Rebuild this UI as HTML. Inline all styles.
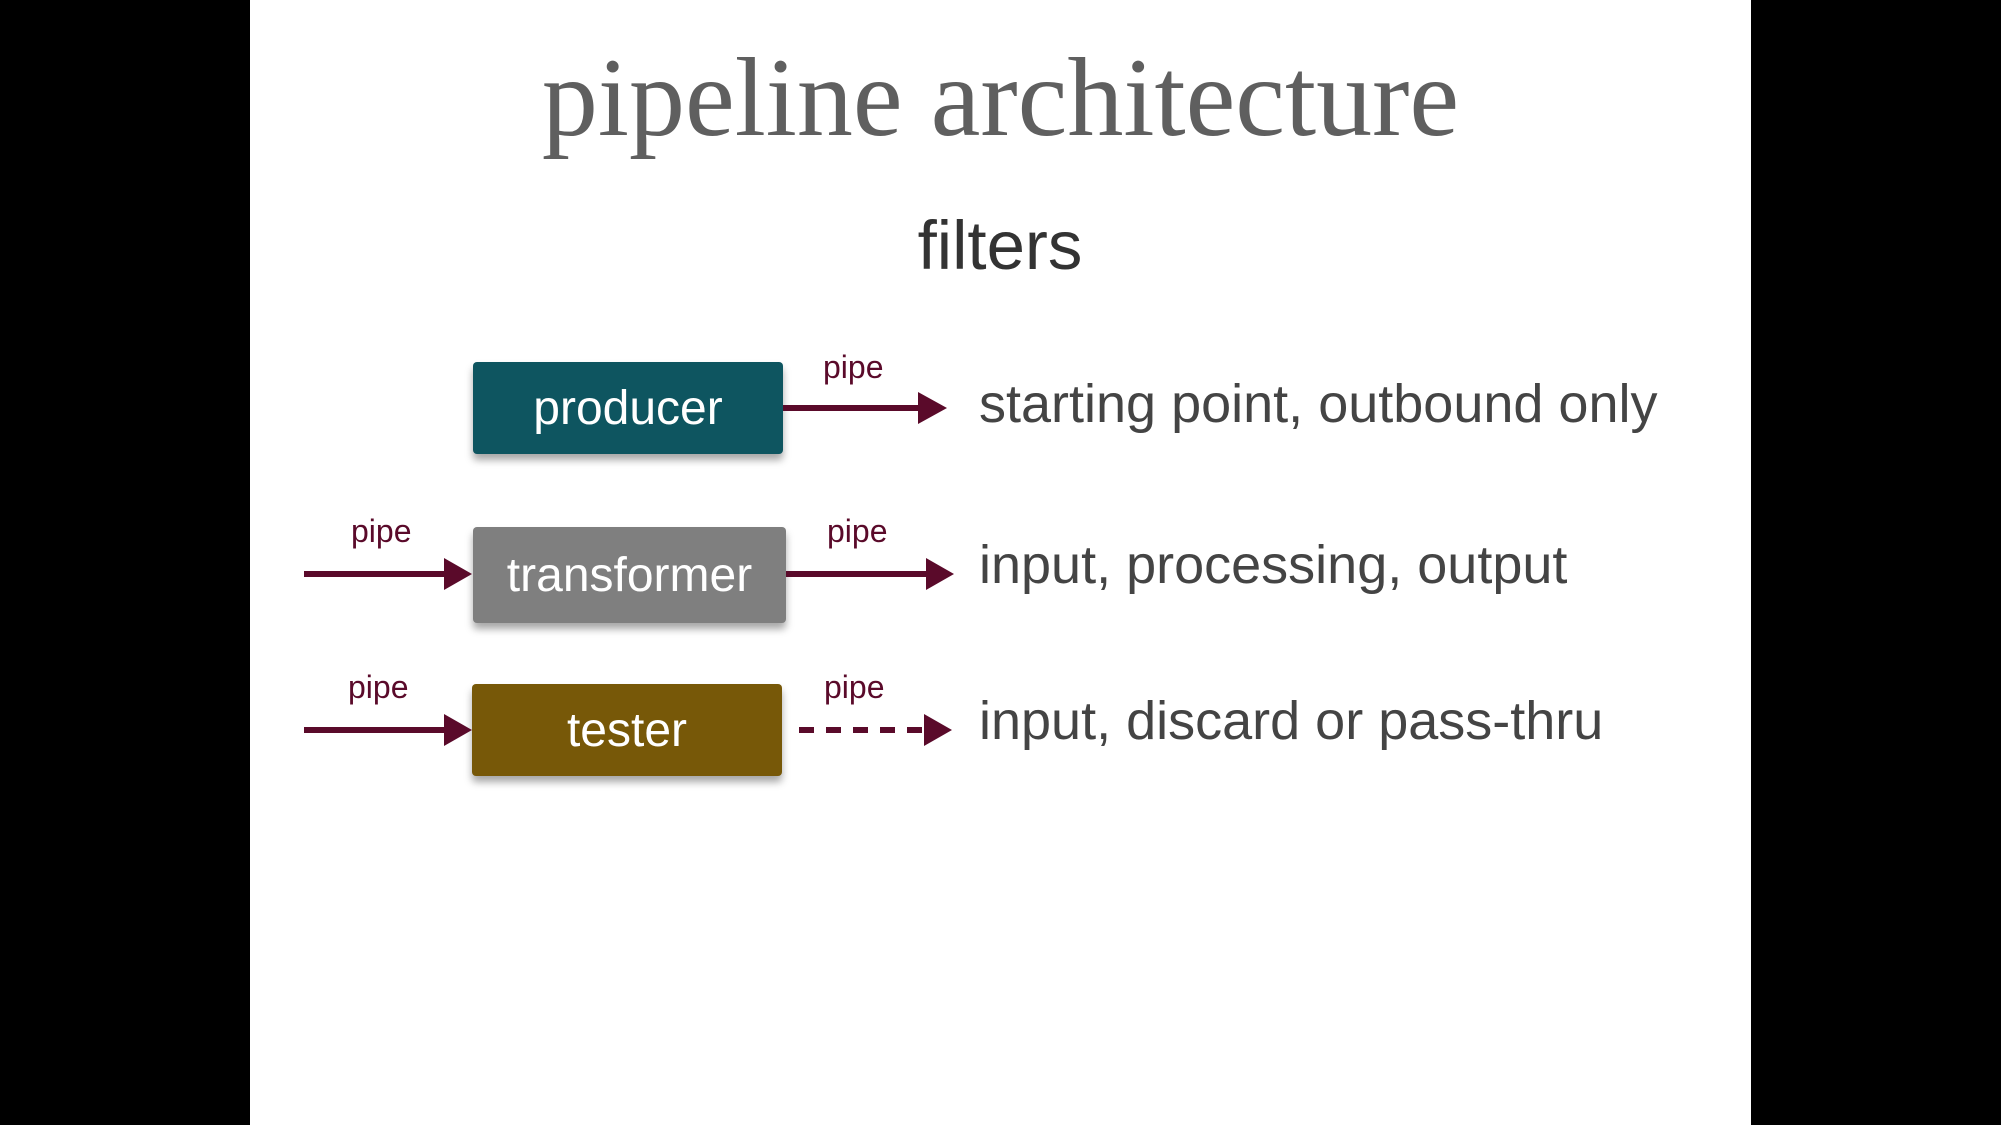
<!DOCTYPE html>
<html><head><style>
body{margin:0;width:2001px;height:1125px;background:#000;overflow:hidden;position:relative;font-family:"Liberation Sans",sans-serif}
.slide{position:absolute;left:250px;top:0;width:1501px;height:1125px;background:#fff}
.t{position:absolute;white-space:nowrap;line-height:1}
.box{position:absolute;color:#fff;font-size:48px;display:flex;align-items:center;justify-content:center;border-radius:4px;box-shadow:0 6px 8px rgba(0,0,0,.35)}
.pipe{position:absolute;color:#5a0a2a;font-size:32px;line-height:1}
.desc{position:absolute;color:#444;font-size:54px;line-height:1;white-space:nowrap}
</style></head><body>
<div class="slide"></div>
<div class="t" style="left:0;width:2001px;text-align:center;top:42px;font-family:'Liberation Serif',serif;font-size:112px;color:#5f5f5f">pipeline architecture</div>
<div class="t" style="left:0;width:2000px;text-align:center;top:211px;font-size:69px;color:#333">filters</div>

<div class="box" style="left:473px;top:362px;width:310px;height:92px;background:#0e5560">producer</div>
<div class="box" style="left:473px;top:527px;width:313px;height:96px;background:#7f7f7f">transformer</div>
<div class="box" style="left:472px;top:684px;width:310px;height:92px;background:#775808">tester</div>

<svg width="2001" height="1125" style="position:absolute;left:0;top:0">
<g fill="#5a0a2a" stroke="#5a0a2a">
<line x1="783" y1="408" x2="922" y2="408" stroke-width="6"/><polygon points="918,392 947,408 918,424" stroke="none"/>
<line x1="304" y1="574" x2="448" y2="574" stroke-width="6"/><polygon points="444,558 472,574 444,590" stroke="none"/>
<line x1="786" y1="574" x2="930" y2="574" stroke-width="6"/><polygon points="926,558 954,574 926,590" stroke="none"/>
<line x1="304" y1="730" x2="448" y2="730" stroke-width="6"/><polygon points="444,714 472,730 444,746" stroke="none"/>
<line x1="799" y1="730" x2="925" y2="730" stroke-width="6" stroke-dasharray="15,12"/><polygon points="924,714 952,730 924,746" stroke="none"/>
</g></svg>

<div class="pipe" style="left:823px;top:351px">pipe</div>
<div class="pipe" style="left:351px;top:515px">pipe</div>
<div class="pipe" style="left:827px;top:515px">pipe</div>
<div class="pipe" style="left:348px;top:671px">pipe</div>
<div class="pipe" style="left:824px;top:671px">pipe</div>

<div class="desc" style="left:979px;top:377px">starting point, outbound only</div>
<div class="desc" style="left:979px;top:538px">input, processing, output</div>
<div class="desc" style="left:979px;top:694px">input, discard or pass-thru</div>
</body></html>
